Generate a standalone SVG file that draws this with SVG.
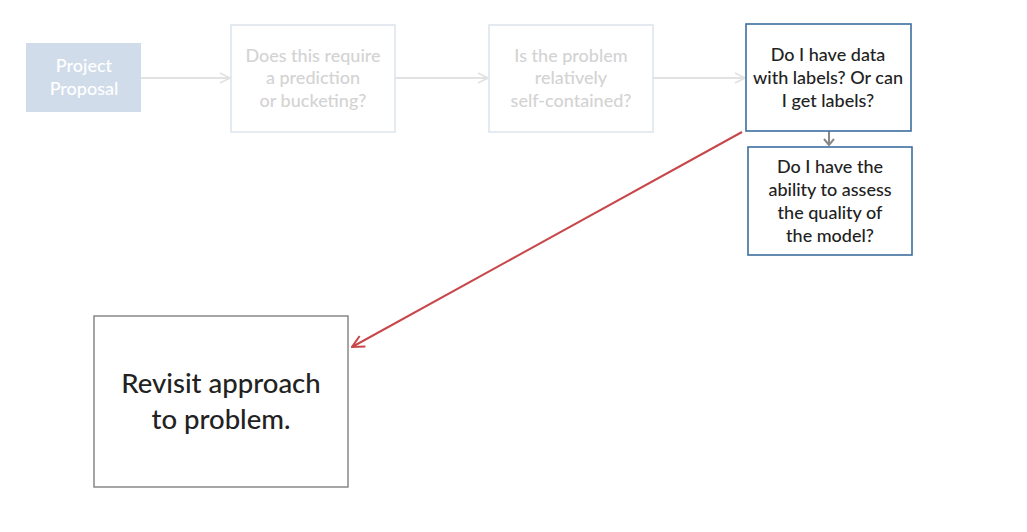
<svg xmlns="http://www.w3.org/2000/svg" width="1027" height="532" viewBox="0 0 1027 532">
<defs>
<style>
.t{font-family:Lato,"Open Sans","Liberation Sans",sans-serif;font-size:18px;font-weight:500;text-anchor:middle}
.faded{fill:#d3d3d3}
.dark{fill:#222}
.fbox{fill:#fff;stroke:#dbe4ec;stroke-width:1.5}
.abox{fill:#fff;stroke:#3d6f9e;stroke-width:1.6}
.lc{stroke:#e2e2e2;stroke-width:2;fill:none}
</style>
<marker id="ah" viewBox="0 0 12 12" refX="11" refY="6" markerWidth="12" markerHeight="12" markerUnits="userSpaceOnUse" orient="auto"><path d="M1,1 L11,6 L1,11" fill="none" stroke="#e2e2e2" stroke-width="1.8"/></marker>
<marker id="ahg" viewBox="0 0 12 12" refX="6" refY="11" markerWidth="12" markerHeight="12" markerUnits="userSpaceOnUse" orient="0"><path d="M1,5 L6,11 L11,5" fill="none" stroke="#888" stroke-width="2"/></marker>
<marker id="ahr" viewBox="0 0 14 14" refX="13" refY="7" markerWidth="14" markerHeight="14" markerUnits="userSpaceOnUse" orient="auto"><path d="M1,1 L13,7 L1,13" fill="none" stroke="#c8474a" stroke-width="2"/></marker>
</defs>
<rect width="1027" height="532" fill="#fff"/>
<g id="connectors">
<line class="lc" x1="141" y1="78" x2="230" y2="78" marker-end="url(#ah)"/>
<line class="lc" x1="395" y1="78" x2="488" y2="78" marker-end="url(#ah)"/>
<line class="lc" x1="653" y1="78" x2="745" y2="78" marker-end="url(#ah)"/>
<line x1="829" y1="131" x2="829" y2="145" stroke="#888" stroke-width="2" marker-end="url(#ahg)"/>
<line x1="742" y1="132" x2="352" y2="347" stroke="#c8474a" stroke-width="2" marker-end="url(#ahr)"/>
</g>
<g id="n1">
<rect x="26" y="43" width="115" height="69" fill="#d1dcea"/>
<text class="t" x="84" y="72" fill="#fff">Project</text>
<text class="t" x="84" y="95" fill="#fff">Proposal</text>
</g>
<g id="n2">
<rect class="fbox" x="231" y="25" width="164" height="107"/>
<text class="t faded" x="313" y="62">Does this require</text>
<text class="t faded" x="313" y="84">a prediction</text>
<text class="t faded" x="313" y="107">or bucketing?</text>
</g>
<g id="n3">
<rect class="fbox" x="489" y="25" width="164" height="107"/>
<text class="t faded" x="571" y="62">Is the problem</text>
<text class="t faded" x="571" y="84">relatively</text>
<text class="t faded" x="571" y="107">self-contained?</text>
</g>
<g id="n4">
<rect class="abox" x="746" y="24" width="165" height="107"/>
<text class="t dark" x="828" y="61">Do I have data</text>
<text class="t dark" x="828" y="84">with labels? Or can</text>
<text class="t dark" x="828" y="107">I get labels?</text>
</g>
<g id="n5">
<rect class="abox" x="748" y="147" width="164" height="108"/>
<text class="t dark" x="830" y="173">Do I have the</text>
<text class="t dark" x="830" y="196">ability to assess</text>
<text class="t dark" x="830" y="219">the quality of</text>
<text class="t dark" x="830" y="242">the model?</text>
</g>
<g id="n6">
<rect x="94" y="316" width="254" height="171" fill="#fff" stroke="#888" stroke-width="1.5"/>
<text class="t dark" x="221" y="393" style="font-size:27.5px">Revisit approach</text>
<text class="t dark" x="221" y="429" style="font-size:27.5px">to problem.</text>
</g>
</svg>
